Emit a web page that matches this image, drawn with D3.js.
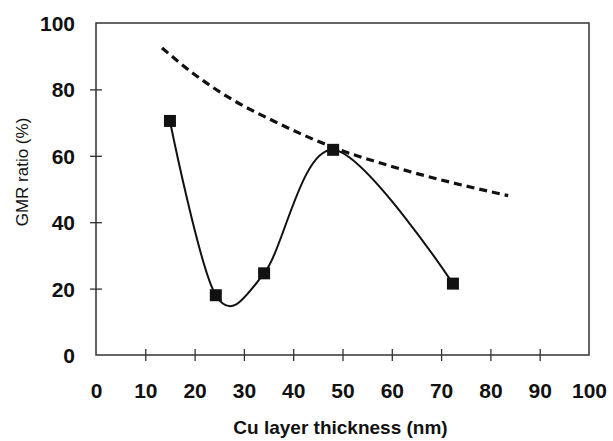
<!DOCTYPE html>
<html><head><meta charset="utf-8">
<script src="https://cdn.jsdelivr.net/npm/d3@7"></script>
<style>body{margin:0;background:#fff;} svg{display:block;}</style>
</head><body>
<svg id="c" width="613" height="441"></svg>
<script>
const xTicks = [0,10,20,30,40,50,60,70,80,90,100];
const yTicks = [0,20,40,60,80,100];
const measX = [15, 24.3, 34.1, 48.1, 72.4];
const measY = [70.5, 18, 24.6, 61.8, 21.5];
const fitX = [13.4, 20, 27, 36, 48, 60, 72, 83.6];
const fitY = [92.5, 84.5, 77.5, 70.5, 62.6, 56.8, 52, 48];
const xLabel = "Cu layer thickness (nm)";
const yLabel = "GMR ratio (%)";

const svg = d3.select("#c");
const L = 96, R = 589, T = 23, B = 355;
const x = d3.scaleLinear().domain([0,100]).range([L,R]);
const y = d3.scaleLinear().domain([0,100]).range([B,T]);
const font = "'Liberation Sans', Arial, sans-serif";

// frame
svg.append("rect").attr("x",L).attr("y",T).attr("width",R-L).attr("height",B-T)
  .attr("fill","none").attr("stroke","#333").attr("stroke-width",1.5);

// x ticks
const gx = svg.append("g").attr("transform",`translate(0,${B})`)
  .call(d3.axisBottom(x).tickValues(xTicks).tickSize(0).tickPadding(0));
gx.select(".domain").remove();
gx.selectAll(".tick line").remove();
gx.selectAll(".tick").filter(d=>d>0 && d<100).append("line")
  .attr("y1",-6).attr("y2",6).attr("stroke","#333").attr("stroke-width",1.3);
gx.selectAll(".tick text").attr("y",43).attr("dy",0)
  .style("font-family",font).style("font-weight","bold").style("font-size","21px").attr("fill","#111");

// y ticks
const gy = svg.append("g").attr("transform",`translate(${L},0)`)
  .call(d3.axisLeft(y).tickValues(yTicks).tickSize(0).tickPadding(0));
gy.select(".domain").remove();
gy.selectAll(".tick line").remove();
gy.selectAll(".tick").filter(d=>d>0 && d<100).append("line")
  .attr("x1",-6).attr("x2",6).attr("stroke","#333").attr("stroke-width",1.3);
gy.selectAll(".tick text").attr("x",-21).attr("dy","0.36em")
  .style("font-family",font).style("font-weight","bold").style("font-size","21px").attr("fill","#111");

// dashed fit
const fit = fitX.map((v,i)=>[v,fitY[i]]);
svg.append("path").datum(fit)
  .attr("d", d3.line().x(d=>x(d[0])).y(d=>y(d[1])).curve(d3.curveMonotoneX))
  .attr("fill","none").attr("stroke","#111").attr("stroke-width",3.2)
  .attr("stroke-dasharray","8,5");

// solid measured (Excel-style smoothed line)
const meas = measX.map((v,i)=>[v,measY[i]]);
svg.append("path").datum(meas)
  .attr("d", d3.line().x(d=>x(d[0])).y(d=>y(d[1])).curve(d3.curveCardinal.tension(0)))
  .attr("fill","none").attr("stroke","#111").attr("stroke-width",2);

svg.selectAll("rect.pt").data(meas).enter().append("rect").attr("class","pt")
  .attr("x",d=>x(d[0])-6).attr("y",d=>y(d[1])-6).attr("width",12).attr("height",12)
  .attr("fill","#111");

// axis labels
svg.append("text").attr("x",(L+R)/2 - 2).attr("y",434).attr("text-anchor","middle")
  .style("font-family",font).style("font-weight","bold").style("font-size","19px").attr("fill","#111")
  .text(xLabel);
svg.append("text").attr("transform","translate(28,172) rotate(-90)").attr("text-anchor","middle")
  .style("font-family",font).style("font-size","17px").attr("fill","#111")
  .text(yLabel);
</script>
</body></html>
